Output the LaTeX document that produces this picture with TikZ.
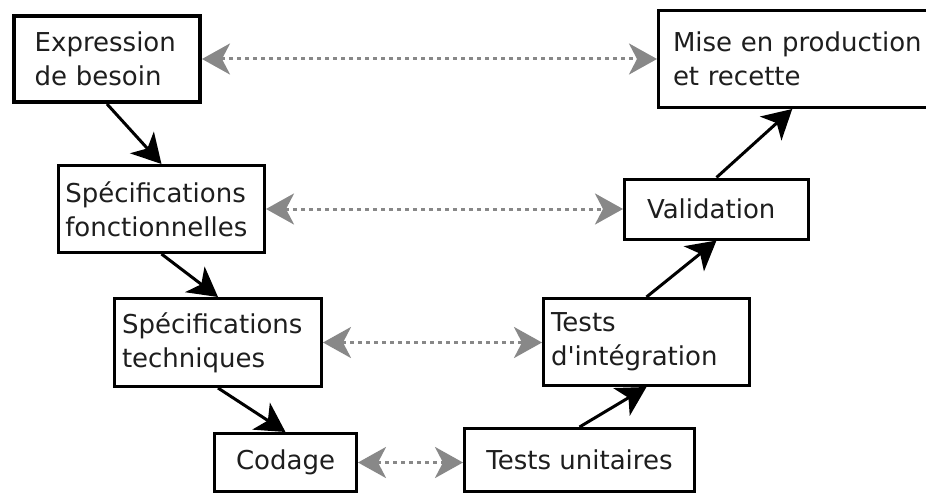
\documentclass[tikz,border=0pt]{standalone}
\usepackage{fontspec}
\setmainfont{DejaVu Sans}
\usetikzlibrary{arrows.meta}
\definecolor{lk}{HTML}{888888}
\definecolor{txt}{HTML}{1E1E1E}
\begin{document}
\begin{tikzpicture}[x=1pt,y=-1pt,
  box/.style={draw=black, line width=3pt, fill=white, inner ysep=0pt,
    font=\fontsize{26}{34}\selectfont, text=txt},
  lbox/.style={box, align=left},
  cbox/.style={box, align=center},
  flow/.style={draw=black, line width=3pt, -{Stealth[length=29pt,width=32pt,inset=8pt]}},
  link/.style={draw=lk, line width=3pt, dash pattern=on 4pt off 4pt,
    {Stealth[length=28pt,width=31pt,inset=8pt]}-{Stealth[length=28pt,width=31pt,inset=8pt]}}]
\clip (0,0) rectangle (926,495);
\fill[white] (0,0) rectangle (926,495);

\node[lbox, line width=4pt, minimum width=186pt, minimum height=86pt, text width=144.6pt, inner xsep=20.7pt] (e) at (107,59) {Expression\\de besoin};
\node[lbox, minimum width=206pt, minimum height=87pt, text width=192.4pt, inner xsep=6.8pt] (sf) at (161.5,209) {Spécifications\\fonctionnelles};
\node[lbox, minimum width=207pt, minimum height=88pt, text width=192pt, inner xsep=7.5pt] (st) at (218,342.5) {Spécifications\\techniques};
\node[cbox, minimum width=142pt, minimum height=58pt, inner xsep=0pt] (c) at (285.5,462.5) {Codage};
\node[cbox, minimum width=230pt, minimum height=63pt, inner xsep=0pt] (tu) at (579.5,460) {Tests unitaires};
\node[lbox, minimum width=206pt, minimum height=87pt, text width=191pt, inner xsep=7.5pt] (ti) at (646.5,342) {Tests\\d\textquotesingle intégration};
\node[lbox, minimum width=184pt, minimum height=60pt, text width=139pt, inner xsep=22.5pt] (v) at (716.5,209) {Validation};
\node[lbox, minimum width=300pt, minimum height=97pt, text width=271pt, inner xsep=14.5pt] (m) at (808.5,59) {Mise en production\\et recette};

\draw[flow] (e.south) -- (sf.north);
\draw[flow] (sf.south) -- (st.north);
\draw[flow] (st.south) -- (c.north);
\draw[flow] (tu.north) -- (ti.south);
\draw[flow] (ti.north) -- (v.south);
\draw[flow] (v.north) -- (m.252);

\draw[link] (e.east) -- (e.east -| m.west);
\draw[link] (sf.east) -- (sf.east -| v.west);
\draw[link] (st.east) -- (st.east -| ti.west);
\draw[link] (c.east) -- (c.east -| tu.west);
\end{tikzpicture}
\end{document}
